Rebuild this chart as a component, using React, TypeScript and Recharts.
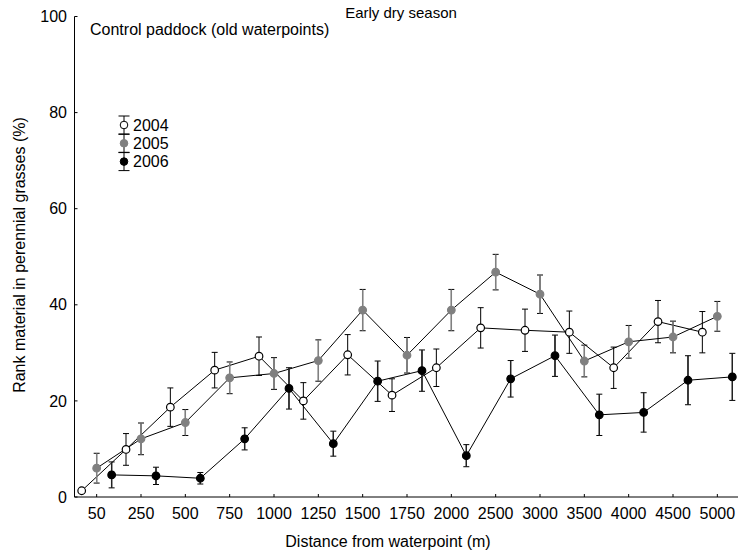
import { LineChart, Line, XAxis, YAxis, ErrorBar } from "recharts";

const DISTANCES = [
  "50", "250", "500", "750", "1000", "1250", "1500", "1750",
  "2000", "2500", "3000", "3500", "4000", "4500", "5000",
];

// mean rank material (%) and SE per distance class
const Y2004 = [1.3, 9.9, 18.7, 26.4, 29.3, 20.0, 29.6, 21.2, 26.9, 35.2, 34.7, 34.3, 26.9, 36.5, 34.3];
const E2004 = [0.4, 3.3, 4.0, 3.7, 4.0, 3.8, 4.2, 3.4, 3.9, 4.2, 4.4, 4.4, 4.3, 4.4, 4.3];

const Y2005 = [6.0, 12.1, 15.5, 24.8, 25.7, 28.4, 38.9, 29.5, 38.9, 46.8, 42.2, 28.3, 32.3, 33.3, 37.6];
const E2005 = [3.1, 3.3, 2.7, 3.3, 3.3, 4.3, 4.3, 3.7, 4.3, 3.7, 4.0, 3.3, 3.4, 3.3, 3.1];

const Y2006 = [4.6, 4.4, 3.9, 12.1, 22.6, 11.1, 24.1, 26.3, 8.6, 24.6, 29.4, 17.1, 17.6, 24.3, 25.0];
const E2006 = [2.7, 1.8, 1.2, 2.3, 4.3, 2.6, 4.2, 4.3, 2.3, 3.8, 4.3, 4.3, 4.1, 5.1, 4.9];

const FONT = '"Liberation Sans", Arial, sans-serif';

// horizontal dodge of each year inside its distance class
const series = [
  { name: "2004", values: Y2004, errors: E2004, shift: -0.338, fill: "#ffffff", stroke: "#000000", bar: "#000000" },
  { name: "2005", values: Y2005, errors: E2005, shift: 0, fill: "#808080", stroke: "#808080", bar: "#808080" },
  { name: "2006", values: Y2006, errors: E2006, shift: 0.338, fill: "#000000", stroke: "#000000", bar: "#222222" },
];

const toRows = (s: (typeof series)[number]) =>
  s.values.map((v, i) => ({ x: i + s.shift, y: v, err: s.errors[i] }));

function LegendBox() {
  return (
    <svg width={90} height={70} style={{ position: "absolute", left: 106, top: 108, overflow: "visible" }}>
      {series.map((s, i) => {
        const cy = 17 + i * 18.3;
        return (
          <g key={s.name}>
            <line x1={18} x2={18} y1={cy - 9} y2={cy + 9} stroke="#000" />
            <line x1={12.5} x2={23.5} y1={cy - 9} y2={cy - 9} stroke="#000" />
            <line x1={12.5} x2={23.5} y1={cy + 9} y2={cy + 9} stroke="#000" />
            <circle cx={18} cy={cy} r={3.8} fill={s.fill} stroke={s.stroke} />
            <text x={27} y={cy + 5.5} fontSize={16} fontFamily={FONT} fill="#000">
              {s.name}
            </text>
          </g>
        );
      })}
    </svg>
  );
}

export default function App() {
  return (
    <div style={{ position: "absolute", left: 0, top: 0, width: 738, height: 557, overflow: "hidden", background: "#fff" }}>
      <LineChart
        width={740}
        height={557}
        margin={{ top: 16.5, right: 0.5, bottom: 0, left: 0 }}
        style={{ fontFamily: FONT }}
      >
        <XAxis
          type="number"
          dataKey="x"
          domain={[-0.5, 14.5]}
          ticks={DISTANCES.map((_, i) => i)}
          tickFormatter={(i: number) => DISTANCES[i]}
          interval={0}
          height={60}
          tickSize={-3}
          tickMargin={14}
          stroke="#000"
          tick={{ fill: "#000", fontSize: 16 }}
          label={{
            content: () => (
              <text x={388} y={547} textAnchor="middle" fontSize={16} fontFamily={FONT} fill="#000">
                Distance from waterpoint (m)
              </text>
            ),
          }}
        />
        <YAxis
          type="number"
          domain={[0, 100]}
          ticks={[0, 20, 40, 60, 80, 100]}
          width={74.5}
          tickSize={-3}
          tickMargin={10.5}
          stroke="#000"
          tick={{ fill: "#000", fontSize: 16 }}
          label={{
            content: () => (
              <text
                x={25}
                y={255}
                transform="rotate(-90 25 255)"
                textAnchor="middle"
                fontSize={16}
                fontFamily={FONT}
                fill="#000"
              >
                Rank material in perennial grasses (%)
              </text>
            ),
          }}
        />
        {series.map((s) => (
          <Line
            key={s.name}
            name={s.name}
            data={toRows(s)}
            dataKey="y"
            type="linear"
            stroke="#000"
            strokeWidth={1}
            isAnimationActive={false}
            activeDot={false}
            dot={{ r: 3.8, fill: s.fill, stroke: s.stroke, strokeWidth: 1.2 }}
          >
            <ErrorBar dataKey="err" direction="y" width={3} stroke="#000" strokeWidth={1} />
            {s.bar !== "#000000" && (
              <ErrorBar dataKey="err" direction="y" width={0} stroke={s.bar} strokeWidth={1.4} />
            )}
          </Line>
        ))}
      </LineChart>
      <LegendBox />
      <div
        style={{
          position: "absolute",
          left: 401,
          top: 4,
          transform: "translateX(-50%)",
          fontFamily: FONT,
          fontSize: 15,
          whiteSpace: "nowrap",
          color: "#000",
        }}
      >
        Early dry season
      </div>
      <div
        style={{
          position: "absolute",
          left: 90,
          top: 21,
          fontFamily: FONT,
          fontSize: 16,
          whiteSpace: "nowrap",
          color: "#000",
        }}
      >
        Control paddock (old waterpoints)
      </div>
    </div>
  );
}
